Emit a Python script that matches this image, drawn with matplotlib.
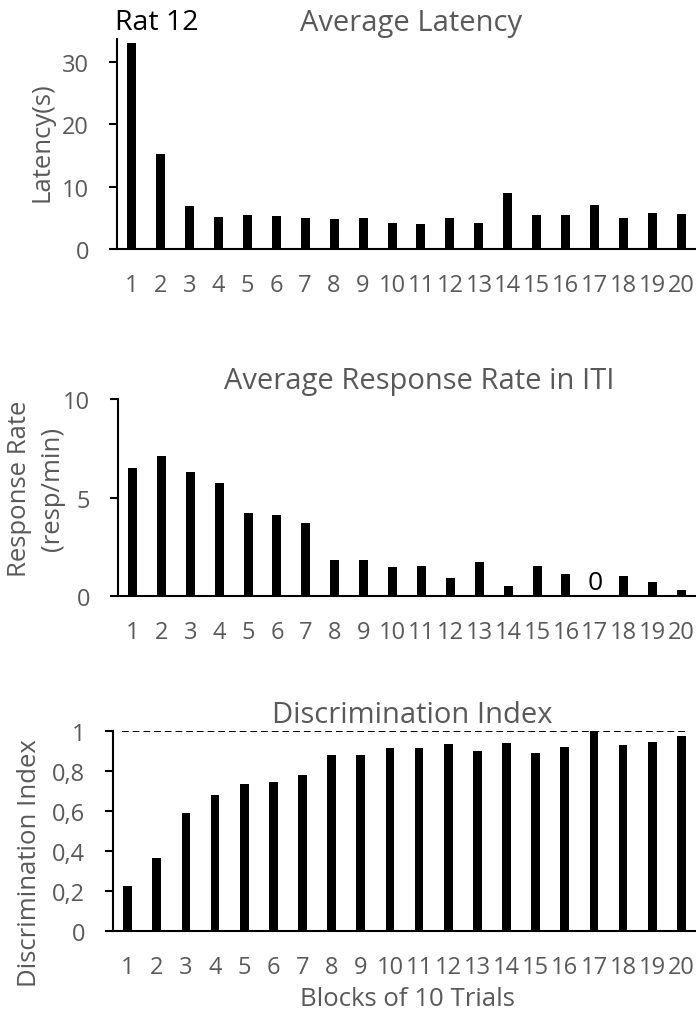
import matplotlib
matplotlib.use("Agg")
import matplotlib.pyplot as plt
import numpy as np

plt.rcParams['font.family'] = ['Open Sans', 'DejaVu Sans']

blocks = list(range(1, 21))
block_labels = [str(b) for b in blocks]

# values
latency = [33.1, 15.3, 6.9, 5.1, 5.5, 5.3, 4.9, 4.8, 4.9, 4.1,
           4.0, 5.0, 4.1, 9.0, 5.5, 5.4, 7.0, 4.9, 5.7, 5.6]
resp_rate = [6.49, 7.09, 6.30, 5.76, 4.19, 4.10, 3.70, 1.81, 1.81, 1.47,
             1.50, 0.91, 1.74, 0.51, 1.54, 1.10, 0.0, 1.03, 0.69, 0.30]
disc_index = [0.225, 0.365, 0.592, 0.678, 0.737, 0.745, 0.778, 0.882, 0.882, 0.913,
              0.917, 0.933, 0.902, 0.940, 0.888, 0.918, 1.0, 0.932, 0.945, 0.977]

lat_ticks = [0, 10, 20, 30]
rate_ticks = [0, 5, 10]
disc_ticks = [0, 0.2, 0.4, 0.6, 0.8, 1]
disc_tick_labels = ['0', '0,2', '0,4', '0,6', '0,8', '1']

W, H = 696, 1020
GREY = '#595959'
TICK_FS = 17
TITLE_FS = 21
LABEL_FS = 18.5

fig = plt.figure(figsize=(W / 100, H / 100), dpi=100)


def px_axes(left, top, bottom):
    # axes box from pixel coords, running to the right edge
    return fig.add_axes([left / W, 1 - bottom / H, 1 - left / W, (bottom - top) / H])


def style(ax, ticks, labels=None):
    ax.set_xlim(0.5, 20.5)
    ax.set_xticks(blocks)
    ax.set_xticklabels(block_labels)
    ax.set_yticks(ticks)
    if labels is not None:
        ax.set_yticklabels(labels)
    for s in ['top', 'right']:
        ax.spines[s].set_visible(False)
    for s in ['left', 'bottom']:
        ax.spines[s].set_linewidth(1.5)
        ax.spines[s].set_color('black')
    ax.tick_params(axis='x', length=0, pad=17, labelsize=TICK_FS, labelcolor=GREY)
    ax.tick_params(axis='y', length=6, width=1.5, pad=14, labelsize=TICK_FS,
                   labelcolor=GREY, direction='out')


# --- Average Latency ---
ax1 = px_axes(117, 40, 250)
ax1.bar(blocks, latency, width=0.31, color='black')
ax1.set_ylim(0, 33.7)
style(ax1, lat_ticks)
fig.text(411 / W, 1 - 31 / H, 'Average Latency', ha='center', va='baseline',
         fontsize=TITLE_FS, color=GREY)
fig.text(115 / W, 1 - 30 / H, 'Rat 12', ha='left', va='baseline', fontsize=20.5,
         color='black')
fig.text(42 / W, 1 - 142 / H, 'Latency(s)', rotation=90, ha='center', va='center',
         fontsize=LABEL_FS, color=GREY)

# --- Average Response Rate in ITI ---
ax2 = px_axes(118, 400, 597)
ax2.bar(blocks, resp_rate, width=0.31, color='black')
ax2.set_ylim(0, 10)
style(ax2, rate_ticks)
for b, v in zip(blocks, resp_rate):
    if v == 0:
        ax2.annotate('0', (b, v), xytext=(0, 1), textcoords='offset points',
                     ha='center', va='bottom', fontsize=19, color='black')
fig.text(419 / W, 1 - 389 / H, 'Average Response Rate in ITI', ha='center',
         va='baseline', fontsize=TITLE_FS, color=GREY)
fig.text(36 / W, 1 - 489 / H, 'Response Rate\n(resp/min)', rotation=90,
         ha='center', va='center', fontsize=LABEL_FS, color=GREY, linespacing=1.4)

# --- Discrimination Index ---
ax3 = px_axes(113, 732, 932)
ax3.bar(blocks, disc_index, width=0.30, color='black')
ax3.set_ylim(0, 1)
style(ax3, disc_ticks, disc_tick_labels)
ax3.axhline(1, xmin=0.015, xmax=0.985, color='black', lw=1.4, ls=(0, (3.5, 2)),
            zorder=0)
fig.text(412 / W, 1 - 723 / H, 'Discrimination Index', ha='center',
         va='baseline', fontsize=TITLE_FS, color=GREY)
fig.text(30 / W, 1 - 863 / H, 'Discrimination Index', rotation=90, ha='center',
         va='center', fontsize=LABEL_FS, color=GREY)
fig.text(407 / W, 1 - 1000 / H, 'Blocks of 10 Trials', ha='center', va='center',
         fontsize=LABEL_FS, color=GREY)

fig.savefig('out.png', dpi=100)
